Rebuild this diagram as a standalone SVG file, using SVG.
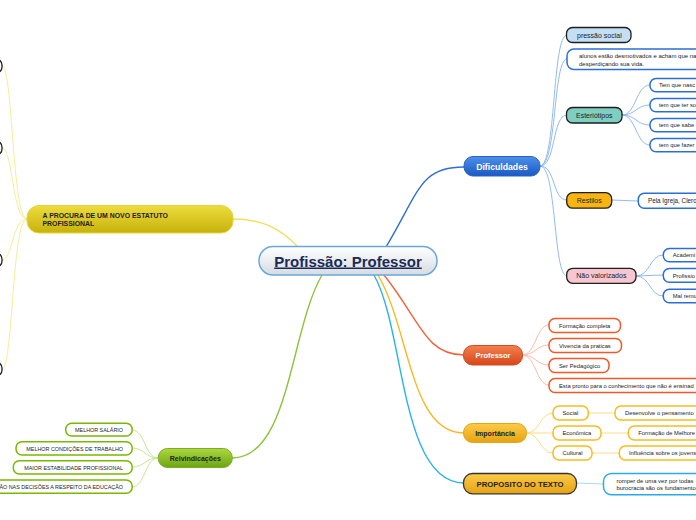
<svg xmlns="http://www.w3.org/2000/svg" width="696" height="520" viewBox="0 0 696 520">
<defs>
<linearGradient id="gCenter" x1="0" y1="0" x2="0" y2="1"><stop offset="0" stop-color="#ffffff"/><stop offset="1" stop-color="#d6dce2"/></linearGradient>
<linearGradient id="gBlue" x1="0" y1="0" x2="0" y2="1"><stop offset="0" stop-color="#4d90ea"/><stop offset="1" stop-color="#1a58c4"/></linearGradient>
<linearGradient id="gRed" x1="0" y1="0" x2="0" y2="1"><stop offset="0" stop-color="#f5804f"/><stop offset="1" stop-color="#d5461a"/></linearGradient>
<linearGradient id="gOrange" x1="0" y1="0" x2="0" y2="1"><stop offset="0" stop-color="#fccb48"/><stop offset="1" stop-color="#e6a212"/></linearGradient>
<linearGradient id="gYellow" x1="0" y1="0" x2="0" y2="1"><stop offset="0" stop-color="#eddc3c"/><stop offset="1" stop-color="#c7b20c"/></linearGradient>
<linearGradient id="gGreen" x1="0" y1="0" x2="0" y2="1"><stop offset="0" stop-color="#acd83c"/><stop offset="1" stop-color="#6ea416"/></linearGradient>
</defs>
<style>
text{font-family:"Liberation Sans",Arial,sans-serif;fill:#222}
.c{fill:none;stroke-width:1.4}
.s{fill:none;stroke-width:0.9}
.box{fill:#fff;stroke-width:1.5}
.t{font-size:5.8px}
.b{font-weight:bold}
.dark{stroke:#1e1e1e;stroke-width:1.3}
</style>
<rect width="696" height="520" fill="#fff"/>
<g id="connectors">
<path class="c" stroke="#2f6fd0" d="M386 247 C420 190 420 167 464 167"/>
<path class="c" stroke="#f0643a" d="M384 275 C420 320 425 355 464 355"/>
<path class="c" stroke="#f8b820" d="M378 275 C410 330 410 433 464 433"/>
<path class="c" stroke="#29b3e8" d="M374 275 C405 330 400 483 464 483"/>
<path class="c" stroke="#8cc43c" d="M322 275 C290 330 290 458 232 458"/>
<path class="c" stroke="#f0e060" d="M298 247 C280 228 262 219 232 219"/>
<g stroke="#86b2ee">
<path class="s" d="M540 166 C556 166 552 35 567 35"/>
<path class="s" d="M540 166 C557 166 553 59 567 59"/>
<path class="s" d="M540 166 C556 166 552 115 567 115"/>
<path class="s" d="M540 166 C556 166 552 200 567 200"/>
<path class="s" d="M540 166 C557 166 553 276 567 276"/>
<path class="s" d="M622 115 C636 115 636 85 650 85"/>
<path class="s" d="M622 115 C636 115 636 105 650 105"/>
<path class="s" d="M622 115 C636 115 636 125 650 125"/>
<path class="s" d="M622 115 C636 115 636 145 650 145"/>
<path class="s" d="M611 200 L638 201"/>
<path class="s" d="M636 276 C650 276 650 255 663 255"/>
<path class="s" d="M636 276 L663 275"/>
<path class="s" d="M636 276 C650 276 650 296 663 296"/>
</g>
<g stroke="#f7b49c">
<path class="s" d="M522 355 C536 355 536 325 549 325"/>
<path class="s" d="M522 355 C536 355 536 345 549 345"/>
<path class="s" d="M522 355 C536 355 536 365 549 365"/>
<path class="s" d="M522 355 C536 355 536 385 549 385"/>
</g>
<g stroke="#fcd878">
<path class="s" d="M526 433 C540 433 540 413 553 413"/>
<path class="s" d="M526 433 L553 433"/>
<path class="s" d="M526 433 C540 433 540 453 553 453"/>
<path class="s" d="M588 413 L615 413"/>
<path class="s" d="M601 433 L628 433"/>
<path class="s" d="M592 453 L619 453"/>
</g>
<path class="s" stroke="#9ad8f2" d="M577 483 L604 484"/>
<g stroke="#c2e08a">
<path class="s" d="M158 458 C145 458 145 430 132 430"/>
<path class="s" d="M158 458 C145 458 145 448 132 448"/>
<path class="s" d="M158 458 C145 458 145 467 132 467"/>
<path class="s" d="M158 458 C145 458 145 487 132 487"/>
</g>
<g stroke="#f6ea8c">
<path class="s" d="M27 219 C12 219 13 66 2 66"/>
<path class="s" d="M27 219 C12 219 13 148 2 148"/>
<path class="s" d="M27 219 C12 219 13 260 2 260"/>
<path class="s" d="M27 219 C12 219 13 369 2 369"/>
</g>
</g>

<g id="center">
<rect x="259" y="246.5" width="178" height="28.5" rx="14" fill="url(#gCenter)" stroke="#6aa8dc" stroke-width="1.5"/>
<text x="348" y="266.5" text-anchor="middle" class="b" style="font-size:15px;fill:#1c2a56;text-decoration:underline">Profissão: Professor</text>
</g>

<g id="dificuldades">
<rect x="464" y="156.5" width="76" height="19.5" rx="9" fill="url(#gBlue)" stroke="#2a62c0" stroke-width="1"/>
<text x="502" y="169.5" text-anchor="middle" class="b" style="font-size:8.7px;fill:#fff">Dificuldades</text>
</g>
<g id="pressao">
<rect x="566.5" y="27.5" width="64.5" height="15" rx="6" fill="#c4def4" class="dark"/>
<text x="577" y="37.5" style="font-size:7px">pressão social</text>
</g>
<g id="alunos">
<rect x="567" y="49" width="150" height="20.5" rx="7" class="box" stroke="#2a6fd6"/>
<text x="579" y="57.5" style="font-size:6px">alunos estão desmotivados e acham que na</text>
<text x="579" y="65.5" style="font-size:6px">desperdiçando sua vida.</text>
</g>
<g id="esteriotipos">
<rect x="566.5" y="107.5" width="55.5" height="15.5" rx="6" fill="#7ecfc1" class="dark"/>
<text x="594.3" y="118.3" text-anchor="middle" style="font-size:7px">Esteriótipos</text>
</g>
<g id="est1"><rect x="650" y="78.5" width="80" height="13.3" rx="6" class="box" stroke="#2a6fd6"/><text x="659" y="87.3" class="t">Tem que nasc</text></g>
<g id="est2"><rect x="650" y="98.5" width="80" height="13.3" rx="6" class="box" stroke="#2a6fd6"/><text x="659" y="107.3" class="t">tem que ter so</text></g>
<g id="est3"><rect x="650" y="118.5" width="80" height="13.3" rx="6" class="box" stroke="#2a6fd6"/><text x="659" y="127.3" class="t">tem que sabe</text></g>
<g id="est4"><rect x="650" y="138.5" width="80" height="13.3" rx="6" class="box" stroke="#2a6fd6"/><text x="659" y="147.3" class="t">tem que fazer</text></g>
<g id="restilos">
<rect x="566.7" y="192.7" width="45" height="15.5" rx="6" fill="#f8b410" class="dark"/>
<text x="589.2" y="203" text-anchor="middle" style="font-size:7px">Restilos</text>
</g>
<g id="igreja"><rect x="638.3" y="193.3" width="90" height="15" rx="6" class="box" stroke="#2a6fd6"/><text x="648" y="203.3" style="font-size:6.3px">Pela Igreja, Clero</text></g>
<g id="naovalorizados">
<rect x="566.7" y="268.3" width="69.3" height="15" rx="6" fill="#f7c6d1" class="dark"/>
<text x="601.3" y="278.3" text-anchor="middle" style="font-size:7px">Não valorizados</text>
</g>
<g id="nv1"><rect x="663.3" y="248.5" width="60" height="13.3" rx="6" class="box" stroke="#2a6fd6"/><text x="672.7" y="257.3" class="t">Academi</text></g>
<g id="nv2"><rect x="663.3" y="268.5" width="60" height="13.8" rx="6" class="box" stroke="#2a6fd6"/><text x="672.7" y="277.5" class="t">Profissio</text></g>
<g id="nv3"><rect x="663.3" y="289.2" width="60" height="13.5" rx="6" class="box" stroke="#2a6fd6"/><text x="672.7" y="298.2" class="t">Mal remu</text></g>

<g id="professor">
<rect x="463.5" y="345.5" width="59" height="19.5" rx="9" fill="url(#gRed)" stroke="#d24a20" stroke-width="1"/>
<text x="493" y="358" text-anchor="middle" class="b" style="font-size:7.5px;fill:#fff">Professor</text>
</g>
<g id="p1"><rect x="549" y="318.5" width="71.5" height="14" rx="6" class="box" stroke="#f0582a"/><text x="559" y="327.5" class="t">Formação completa</text></g>
<g id="p2"><rect x="549" y="338.5" width="72.5" height="14" rx="6" class="box" stroke="#f0582a"/><text x="559" y="347.5" class="t">Vivencia da praticas</text></g>
<g id="p3"><rect x="549" y="358.5" width="60" height="14" rx="6" class="box" stroke="#f0582a"/><text x="559" y="367.5" class="t">Ser Pedagógico</text></g>
<g id="p4"><rect x="549" y="378.5" width="160" height="14" rx="6" class="box" stroke="#f0582a"/><text x="559" y="387.5" class="t">Esta pronto para o conhecimento que não é ensinad</text></g>

<g id="importancia">
<rect x="463.5" y="423.5" width="63" height="19" rx="9" fill="url(#gOrange)" stroke="#e8a416" stroke-width="1"/>
<text x="495" y="436" text-anchor="middle" class="b" style="font-size:7px">Importância</text>
</g>
<g id="i1"><rect x="553" y="406" width="35.3" height="14" rx="6" class="box" stroke="#f8bc1e"/><text x="562.5" y="415" class="t">Social</text></g>
<g id="i2"><rect x="553" y="426" width="48" height="14" rx="6" class="box" stroke="#f8bc1e"/><text x="562.5" y="435" class="t">Econômica</text></g>
<g id="i3"><rect x="553" y="446" width="39" height="14" rx="6" class="box" stroke="#f8bc1e"/><text x="562.5" y="455" class="t">Cultural</text></g>
<g id="i1a"><rect x="615" y="406" width="100" height="14" rx="6" class="box" stroke="#f8bc1e"/><text x="625" y="415" class="t">Desenvolve o pensamento</text></g>
<g id="i2a"><rect x="628.3" y="426" width="100" height="14" rx="6" class="box" stroke="#f8bc1e"/><text x="638.3" y="435" class="t">Formação de Melhore</text></g>
<g id="i3a"><rect x="619.3" y="446" width="100" height="14" rx="6" class="box" stroke="#f8bc1e"/><text x="629" y="455" class="t">Influência sobre os jovens</text></g>

<g id="proposito">
<rect x="463.5" y="473.5" width="113" height="20.3" rx="9" fill="url(#gOrange)" stroke="#333" stroke-width="1.3"/>
<text x="520" y="486.8" text-anchor="middle" class="b" style="font-size:7.7px">PROPOSITO DO TEXTO</text>
</g>
<g id="prop1">
<rect x="603.5" y="473.5" width="130" height="21.3" rx="8" class="box" stroke="#2aaae6"/>
<text x="616.5" y="482.5" style="font-size:5.9px">romper de uma vez por todas</text>
<text x="616.5" y="490" style="font-size:5.9px">burocracia são os fundamento</text>
</g>

<g id="procura">
<rect x="27" y="205.5" width="206" height="27.5" rx="12" fill="url(#gYellow)" stroke="#e4d43a" stroke-width="1"/>
<text x="42.5" y="217.5" class="b" style="font-size:6.9px">A PROCURA DE UM NOVO ESTATUTO</text>
<text x="42.5" y="225.8" class="b" style="font-size:6.9px">PROFISSIONAL</text>
</g>
<g id="l1"><rect x="-60" y="59" width="62" height="14" rx="6" fill="#fff" class="dark"/></g>
<g id="l2"><rect x="-60" y="141" width="62" height="14" rx="6" fill="#fff" class="dark"/></g>
<g id="l3"><rect x="-60" y="253" width="62" height="14" rx="6" fill="#fff" class="dark"/></g>
<g id="l4"><rect x="-60" y="362" width="62" height="14" rx="6" fill="#fff" class="dark"/></g>

<g id="reivindicacoes">
<rect x="158.3" y="448.5" width="74" height="19" rx="9" fill="url(#gGreen)" stroke="#7aae20" stroke-width="1"/>
<text x="195.3" y="460.8" text-anchor="middle" class="b" style="font-size:7px">Reivindicações</text>
</g>
<g id="r1"><rect x="65.7" y="423.3" width="66.5" height="12.8" rx="6" class="box" stroke="#7ab800"/><text x="123" y="431.8" text-anchor="end" style="font-size:5.4px">MELHOR SALÁRIO</text></g>
<g id="r2"><rect x="16" y="441.8" width="116.2" height="13.2" rx="6" class="box" stroke="#7ab800"/><text x="123" y="450.5" text-anchor="end" style="font-size:5.4px">MELHOR CONDIÇÕES DE TRABALHO</text></g>
<g id="r3"><rect x="13.3" y="460.8" width="118.9" height="13.2" rx="6" class="box" stroke="#7ab800"/><text x="123" y="469.5" text-anchor="end" style="font-size:5.4px">MAIOR ESTABILIDADE PROFISSIONAL</text></g>
<g id="r4"><rect x="-20" y="480" width="152.2" height="13.3" rx="6" class="box" stroke="#7ab800"/><text x="123" y="488.8" text-anchor="end" style="font-size:5.4px">ÃO NAS DECISÕES A RESPEITO DA EDUCAÇÃO</text></g>
</svg>
